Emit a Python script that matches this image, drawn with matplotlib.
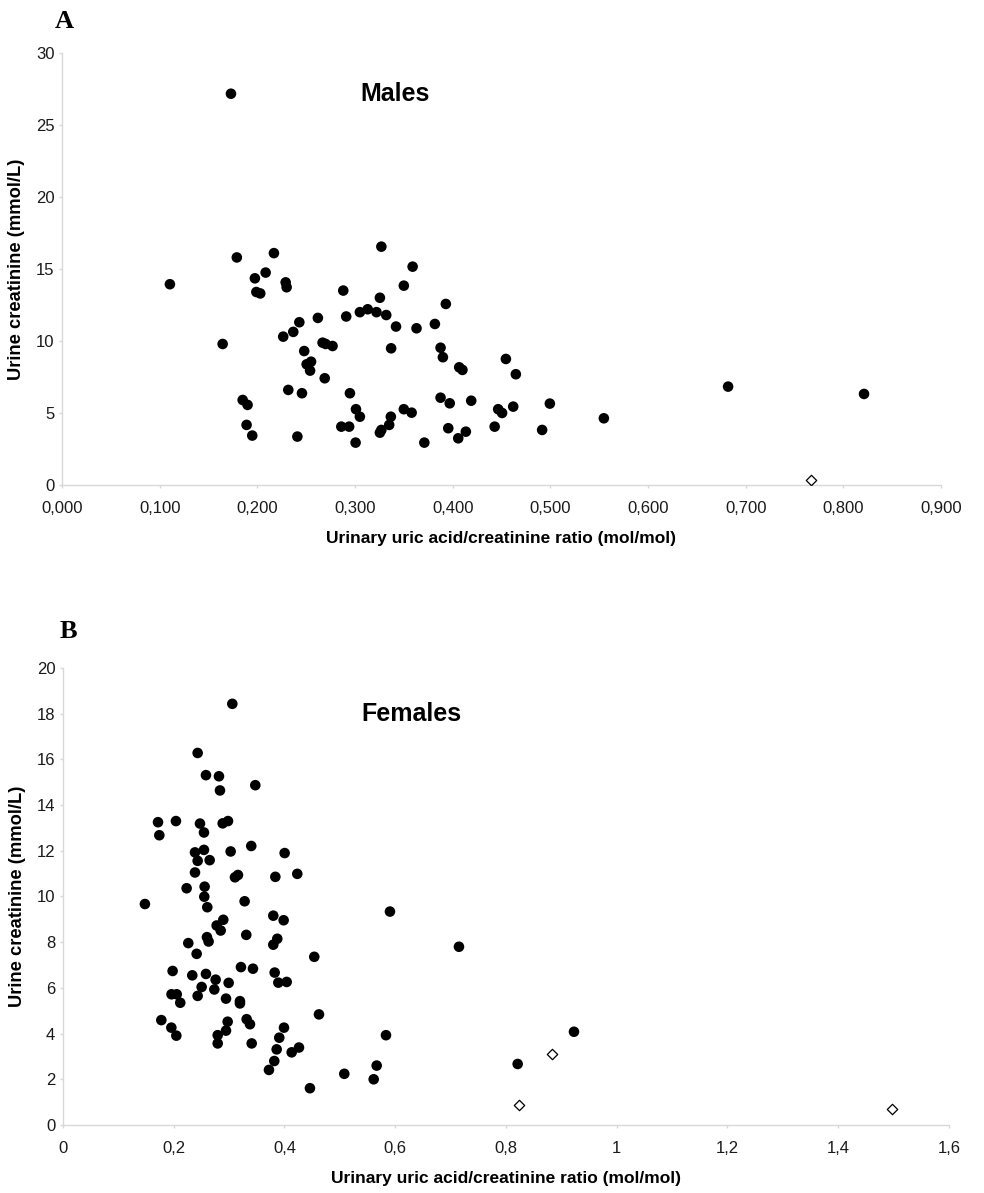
import matplotlib.pyplot as plt
import matplotlib.ticker as mticker

plt.rcParams['font.family'] = ['Liberation Sans', 'DejaVu Sans']

# Panel A - males (x = urinary uric acid/creatinine ratio, y = urine creatinine)
males_x = [0.1105, 0.179, 0.217, 0.1975, 0.2085, 0.199, 0.203, 0.229, 0.230,
           0.1645, 0.2265, 0.2368, 0.243, 0.262, 0.248, 0.2505, 0.255, 0.254,
           0.2668, 0.270, 0.277, 0.269, 0.2317, 0.2457, 0.185, 0.190, 0.189,
           0.1948, 0.241, 0.288, 0.291, 0.305, 0.313, 0.322, 0.3255, 0.332,
           0.342, 0.337, 0.350, 0.359, 0.363, 0.327, 0.2948, 0.301, 0.305,
           0.286, 0.294, 0.3006, 0.3255, 0.327, 0.335, 0.3367, 0.350, 0.358,
           0.371, 0.3818, 0.3876, 0.390, 0.393, 0.3876, 0.397, 0.3955, 0.4057,
           0.4135, 0.419, 0.4067, 0.410, 0.443, 0.4466, 0.4506, 0.4545, 0.4647,
           0.462, 0.4995, 0.4916, 0.5548, 0.682, 0.8212, 0.173]
males_y = [13.94, 15.8, 16.1, 14.35, 14.75, 13.4, 13.3, 14.07, 13.73,
           9.79, 10.3, 10.63, 11.3, 11.6, 9.3, 8.38, 8.56, 7.94,
           9.88, 9.79, 9.65, 7.41, 6.6, 6.37, 5.9, 5.56, 4.17,
           3.43, 3.36, 13.5, 11.7, 12.0, 12.2, 12.0, 13.0, 11.8,
           11.0, 9.49, 13.84, 15.16, 10.88, 16.55, 6.37, 5.26, 4.74,
           4.05, 4.05, 2.94, 3.63, 3.82, 4.17, 4.74, 5.26, 5.02,
           2.94, 11.18, 9.53, 8.87, 12.57, 6.06, 5.67, 3.94, 3.24,
           3.70, 5.85, 8.17, 7.99, 4.05, 5.26, 5.0, 8.75, 7.69,
           5.44, 5.65, 3.82, 4.63, 6.83, 6.32, 27.17]
males_out_x = [0.767]
males_out_y = [0.37]

# Panel B - females
females_x = [0.3058, 0.2432, 0.2582, 0.2817, 0.2835, 0.3473, 0.1716, 0.174,
             0.204, 0.2474, 0.2546, 0.2884, 0.298, 0.2384, 0.2546, 0.2432,
             0.2649, 0.3028, 0.340, 0.4003, 0.2384, 0.3106, 0.316, 0.3835,
             0.4231, 0.2233, 0.2558, 0.148, 0.2552, 0.2606, 0.328, 0.3798,
             0.3985, 0.5905, 0.2263, 0.2414, 0.260, 0.263, 0.2775, 0.2848,
             0.2895, 0.331, 0.3798, 0.387, 0.4538, 0.7151, 0.198, 0.2335,
             0.2582, 0.2757, 0.2504, 0.2733, 0.2992, 0.3214, 0.3431, 0.3823,
             0.3889, 0.404, 0.196, 0.2054, 0.2118, 0.2432, 0.2944, 0.3196,
             0.3196, 0.1776, 0.1957, 0.2047, 0.2974, 0.2944, 0.2794, 0.2794,
             0.3317, 0.3377, 0.3408, 0.3991, 0.3906, 0.3859, 0.3816, 0.372,
             0.413, 0.4262, 0.4623, 0.446, 0.508, 0.5611, 0.5665, 0.5833,
             0.9228, 0.8211]
females_y = [18.43, 16.28, 15.31, 15.26, 14.64, 14.87, 13.25, 12.68,
             13.30, 13.19, 12.80, 13.20, 13.30, 11.93, 12.04, 11.56,
             11.59, 11.97, 12.21, 11.90, 11.05, 10.84, 10.94, 10.86,
             10.99, 10.36, 10.43, 9.67, 9.99, 9.53, 9.79, 9.16,
             8.96, 9.34, 7.96, 7.49, 8.22, 8.03, 8.73, 8.51,
             8.98, 8.32, 7.89, 8.15, 7.36, 7.80, 6.74, 6.55,
             6.61, 6.36, 6.04, 5.93, 6.22, 6.91, 6.84, 6.67,
             6.23, 6.26, 5.72, 5.72, 5.35, 5.65, 5.53, 5.42,
             5.32, 4.59, 4.26, 3.91, 4.52, 4.13, 3.93, 3.57,
             4.63, 4.41, 3.57, 4.26, 3.82, 3.31, 2.80, 2.41,
             3.18, 3.39, 4.84, 1.61, 2.24, 2.00, 2.60, 3.93,
             4.08, 2.67]
females_out_x = [0.883, 0.8235, 1.4965]
females_out_y = [3.11, 0.88, 0.71]

fig = plt.figure(figsize=(9.84, 11.93), dpi=100)
axA = fig.add_axes([0.063, 0.5935, 0.8933, 0.3621])
axB = fig.add_axes([0.064, 0.0570, 0.9004, 0.3831])

xlabel = "Urinary uric acid/creatinine ratio (mol/mol)"
ylabel = "Urine creatinine (mmol/L)"


def style(ax):
    for s in ['top', 'right']:
        ax.spines[s].set_visible(False)
    for s in ['left', 'bottom']:
        ax.spines[s].set_color('#d8d8d8')
        ax.spines[s].set_linewidth(1.0)
    ax.tick_params(axis='both', colors='#d8d8d8', length=2.5, width=1,
                   labelcolor='#1a1a1a', labelsize=12)
    ax.tick_params(axis='x', pad=9)
    ax.tick_params(axis='y', pad=3)
    ax.set_xlabel(xlabel, fontsize=12.5, fontweight='bold', labelpad=11)
    ax.set_ylabel(ylabel, fontsize=13.2, fontweight='bold')
    ax.yaxis.set_label_coords(-0.042, 0.5)


# PANEL A
axA.scatter(males_x, males_y, s=58, color='black', edgecolors='none', zorder=3)
axA.scatter(males_out_x, males_out_y, s=28, marker='D', facecolors='white',
            edgecolors='black', linewidths=0.9, zorder=3)
axA.set_xlim(0, 0.9)
axA.set_ylim(0, 30)
axA.set_xticks([i / 10 for i in range(10)])
axA.set_yticks(range(0, 31, 5))
axA.xaxis.set_major_formatter(mticker.FuncFormatter(lambda v, p: f"{v:.3f}".replace('.', ',')))
style(axA)
axA.text(0.34, 0.905, "Males", transform=axA.transAxes, fontsize=18,
         fontweight='bold', ha='left', va='center')

# PANEL B
axB.scatter(females_x, females_y, s=58, color='black', edgecolors='none', zorder=3)
axB.scatter(females_out_x, females_out_y, s=28, marker='D', facecolors='white',
            edgecolors='black', linewidths=0.9, zorder=3)
axB.set_xlim(0, 1.6)
axB.set_ylim(0, 20)
axB.set_xticks([i * 0.2 for i in range(9)])
axB.set_yticks(range(0, 21, 2))
axB.xaxis.set_major_formatter(mticker.FuncFormatter(
    lambda v, p: ("0" if abs(v) < 1e-9 else f"{v:.1f}".rstrip('0').rstrip('.').replace('.', ','))))
style(axB)
axB.text(0.337, 0.9, "Females", transform=axB.transAxes, fontsize=18,
         fontweight='bold', ha='left', va='center')

# panel letters
fig.text(0.056, 0.982, "A", fontsize=19, fontweight='bold',
         family=['Liberation Serif', 'DejaVu Serif'], ha='left', va='center')
fig.text(0.061, 0.471, "B", fontsize=19, fontweight='bold',
         family=['Liberation Serif', 'DejaVu Serif'], ha='left', va='center')

fig.savefig("out.png", dpi=100, facecolor='white')
